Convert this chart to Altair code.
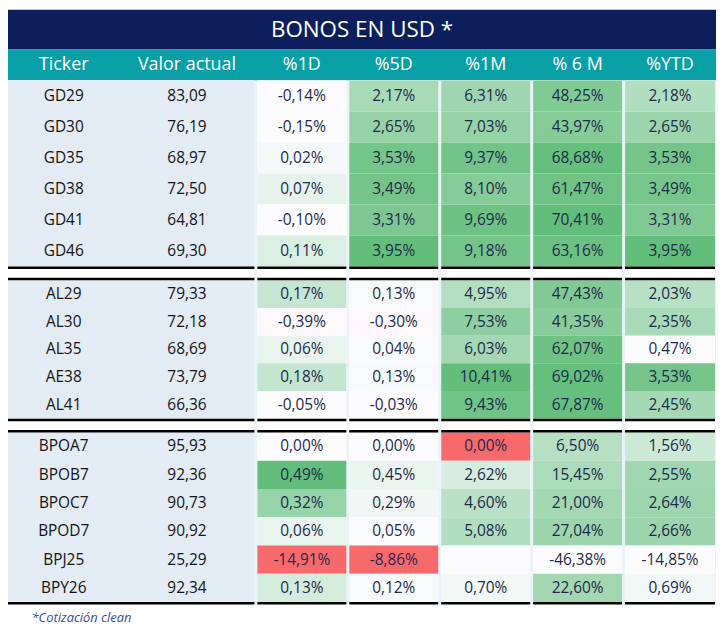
import altair as alt
import pandas as pd

# ---------------- data ----------------
title_text = "BONOS EN USD *"
footnote_text = "*Cotización clean"
header_labels = ["Ticker", "Valor actual", "%1D", "%5D", "%1M", "% 6 M", "%YTD"]

tickers = ["GD29", "GD30", "GD35", "GD38", "GD41", "GD46",
           "AL29", "AL30", "AL35", "AE38", "AL41",
           "BPOA7", "BPOB7", "BPOC7", "BPOD7", "BPJ25", "BPY26"]
groups = [0, 0, 0, 0, 0, 0, 1, 1, 1, 1, 1, 2, 2, 2, 2, 2, 2]
valor = [83.09, 76.19, 68.97, 72.50, 64.81, 69.30,
         79.33, 72.18, 68.69, 73.79, 66.36,
         95.93, 92.36, 90.73, 90.92, 25.29, 92.34]
pct_1d = [-0.14, -0.15, 0.02, 0.07, -0.10, 0.11,
          0.17, -0.39, 0.06, 0.18, -0.05,
          0.00, 0.49, 0.32, 0.06, -14.91, 0.13]
pct_5d = [2.17, 2.65, 3.53, 3.49, 3.31, 3.95,
          0.13, -0.30, 0.04, 0.13, -0.03,
          0.00, 0.45, 0.29, 0.05, -8.86, 0.12]
pct_1m = [6.31, 7.03, 9.37, 8.10, 9.69, 9.18,
          4.95, 7.53, 6.03, 10.41, 9.43,
          0.00, 2.62, 4.60, 5.08, None, 0.70]
pct_6m = [48.25, 43.97, 68.68, 61.47, 70.41, 63.16,
          47.43, 41.35, 62.07, 69.02, 67.87,
          6.50, 15.45, 21.00, 27.04, -46.38, 22.60]
pct_ytd = [2.18, 2.65, 3.53, 3.49, 3.31, 3.95,
           2.03, 2.35, 0.47, 3.53, 2.45,
           1.56, 2.55, 2.64, 2.66, -14.85, 0.69]

pct_series = [pct_1d, pct_5d, pct_1m, pct_6m, pct_ytd]
scale_kind = ["three", "three", "three", "two", "two"]

# ---------------- layout (reference units) ----------------
W_REF, H_REF = 724, 636
PX_W, PX_H = 712, 620
TITLE_H = 41
HEADER_H = 32
LEFT_W = [114, 138]
COL_GAP = 3
CELL_W = [91, 91, 91, 91, 92]
ROW_H = [32, 28.6, 29.17]
GROUP_GAP = 14
LINE_W = 2.5

NAVY = "#0C1F5C"
TEAL = "#08A0A6"
LEFT_BG = "#E3EBF5"
GAP_BG = "#EAF3FB"
CELL_TEXT = "#1E2A4C"
FONT = "Open Sans"

# column edges
left_x0, left_x1 = 0, sum(LEFT_W)
col_edges = [(0, LEFT_W[0]), (LEFT_W[0], left_x1)]
x = left_x1
for w in CELL_W:
    x += COL_GAP
    col_edges.append((x, x + w))
    x += w
block_edges = [(left_x0, left_x1)] + col_edges[2:]

# row edges
row_y = []
group_span = {}
y = TITLE_H + HEADER_H
prev_g = groups[0]
for g in groups:
    if g != prev_g:
        y += GROUP_GAP
        prev_g = g
    h = ROW_H[g]
    row_y.append((y, y + h))
    group_span.setdefault(g, [y, y + h])
    group_span[g][1] = y + h
    y += h
table_top = TITLE_H + HEADER_H
table_bottom = y + LINE_W


def fmt(v, pct=True):
    if v is None:
        return ""
    s = f"{v:.2f}".replace(".", ",")
    return s + "%" if pct else s


def scores(vals, kind):
    present = [v for v in vals if v is not None]
    hi = max(present)
    if kind == "three":
        lo, mid = min(present), 0.0
        out = []
        for v in vals:
            if v is None:
                out.append(0.0)
            elif v == lo:
                out.append(-1.0)
            elif v >= mid:
                out.append((v - mid) / (hi - mid))
            else:
                out.append(-(mid - v) / (mid - lo))
        return out
    lo = min(present) if min(present) < -20 else min(p for p in present if p >= 0)
    return [0.0 if v is None else max(0.0, min(1.0, (v - lo) / (hi - lo))) for v in vals]


# ---------------- tables ----------------
cells = []
for c, (vals, kind) in enumerate(zip(pct_series, scale_kind)):
    sc = scores(vals, kind)
    x0, x1 = col_edges[c + 2]
    for r, v in enumerate(vals):
        y0, y1 = row_y[r]
        cells.append(dict(x0=x0, x1=x1, y0=y0, y1=y1, xm=(x0 + x1) / 2, ym=(y0 + y1) / 2,
                          score=sc[r], label=fmt(v)))
cells = pd.DataFrame(cells)

left_rows = []
for r, t in enumerate(tickers):
    y0, y1 = row_y[r]
    left_rows.append(dict(x0=left_x0, x1=left_x1, y0=y0, y1=y1, ym=(y0 + y1) / 2,
                          tx=sum(col_edges[0]) / 2, vx=sum(col_edges[1]) / 2,
                          ticker=t, valor=fmt(valor[r], pct=False)))
left_rows = pd.DataFrame(left_rows)

blocks = pd.DataFrame([dict(x0=a, x1=b, y0=table_top, y1=table_bottom) for a, b in block_edges])
table_bg = pd.DataFrame([dict(x0=0, x1=W_REF, y0=table_top, y1=table_bottom)])

lines = []
for g, (gt, gb) in group_span.items():
    for a, b in block_edges:
        if g > 0:
            lines.append(dict(x0=a, x1=b, y0=gt - LINE_W, y1=gt))
        lines.append(dict(x0=a, x1=b, y0=gb, y1=gb + LINE_W))
lines = pd.DataFrame(lines)

bars = pd.DataFrame([
    dict(x0=0, x1=W_REF, y0=0, y1=TITLE_H, kind="title"),
    dict(x0=0, x1=W_REF, y0=TITLE_H, y1=TITLE_H + HEADER_H, kind="header"),
])
header_df = pd.DataFrame([dict(xm=(a + b) / 2, ym=TITLE_H + HEADER_H / 2, label=lab)
                          for (a, b), lab in zip(col_edges, header_labels)])
title_df = pd.DataFrame([dict(xm=W_REF / 2, ym=TITLE_H / 2 + 0.5, label=title_text)])
foot_df = pd.DataFrame([dict(xm=24, ym=table_bottom + 14, label=footnote_text)])

# ---------------- scales ----------------
xs = alt.Scale(domain=[0, W_REF], nice=False, zero=False)
ys = alt.Scale(domain=[0, H_REF], nice=False, zero=False, reverse=True)


def X(f):
    return alt.X(f, type="quantitative", scale=xs, axis=None)


def Y(f):
    return alt.Y(f, type="quantitative", scale=ys, axis=None)


def rect_layer(df, color):
    return alt.Chart(df).mark_rect(color=color, strokeWidth=0).encode(
        x=X("x0"), x2="x1", y=Y("y0"), y2="y1")


bar_layer = alt.Chart(bars).mark_rect(strokeWidth=0).encode(
    x=X("x0"), x2="x1", y=Y("y0"), y2="y1",
    color=alt.Color("kind:N", scale=alt.Scale(domain=["title", "header"], range=[NAVY, TEAL]),
                    legend=None))

cell_layer = alt.Chart(cells).mark_rect(strokeWidth=0).encode(
    x=X("x0"), x2="x1", y=Y("y0"), y2="y1",
    color=alt.Color("score:Q", scale=alt.Scale(domain=[-1, 0, 1],
                                                range=["#F8696B", "#FCFCFF", "#63BE7B"],
                                                interpolate="rgb"), legend=None))

cell_text = alt.Chart(cells).mark_text(font=FONT, fontSize=15.5, color=CELL_TEXT,
                                       baseline="middle", align="center").encode(
    x=X("xm"), y=Y("ym"), text="label:N")

ticker_text = alt.Chart(left_rows).mark_text(font=FONT, fontSize=15.5, color="#141414",
                                             baseline="middle", align="center").encode(
    x=X("tx"), y=Y("ym"), text="ticker:N")
valor_text = alt.Chart(left_rows).mark_text(font=FONT, fontSize=15.5, color="#141414",
                                            baseline="middle", align="center").encode(
    x=X("vx"), y=Y("ym"), text="valor:N")

header_text = alt.Chart(header_df).mark_text(font=FONT, fontSize=18, color="white",
                                             baseline="middle", align="center").encode(
    x=X("xm"), y=Y("ym"), text="label:N")
title_layer = alt.Chart(title_df).mark_text(font=FONT, fontSize=22.5, color="white",
                                            baseline="middle", align="center").encode(
    x=X("xm"), y=Y("ym"), text="label:N")
foot_layer = alt.Chart(foot_df).mark_text(font=FONT, fontSize=13, color="#3B4A9C",
                                          fontStyle="italic", baseline="middle",
                                          align="left").encode(
    x=X("xm"), y=Y("ym"), text="label:N")

chart = alt.layer(
    bar_layer,
    rect_layer(table_bg, GAP_BG),
    rect_layer(blocks, "#FFFFFF"),
    rect_layer(pd.DataFrame([dict(x0=left_x0, x1=left_x1, y0=a, y1=b)
                             for a, b in group_span.values()]), LEFT_BG),
    cell_layer,
    rect_layer(lines, "#000000"),
    cell_text, ticker_text, valor_text, header_text, title_layer, foot_layer,
).resolve_scale(color="independent").properties(
    width=PX_W, height=PX_H, padding=0,
    autosize=alt.AutoSizeParams(type="none"),
    background="white",
).configure_view(strokeWidth=0)

chart.save("out.html", embed_options={"renderer": "svg", "actions": False})
